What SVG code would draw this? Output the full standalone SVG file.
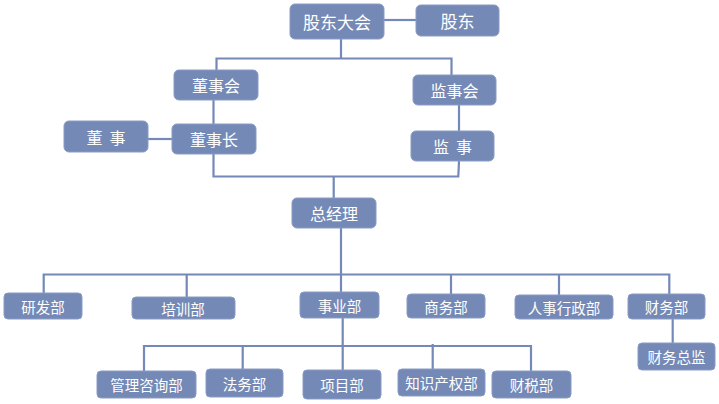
<svg xmlns="http://www.w3.org/2000/svg" width="719" height="404" viewBox="0 0 719 404">
<style>
.n rect{fill:#7589B6;stroke:#8A9BC4;stroke-width:1}
.n text{fill:#fff;font-family:"Noto Sans CJK SC","Noto Sans",sans-serif;text-anchor:middle;dominant-baseline:central}
.l{font-size:17px}.m{font-size:16px}.s{font-size:14.5px}
.c{fill:none;stroke:#7489B8;stroke-width:2.2}
</style>
<rect width="719" height="404" fill="#fff"/>
<g id="connectors" class="c">
<path d="M384 20H416"/>
<path d="M341 39V58.5M216.5 70V58.5H451.5V75.3"/>
<path d="M213.5 100V124"/>
<path d="M148 139H172"/>
<path d="M459 105V131"/>
<path d="M213.5 154V176.5H458.3L459 161M333.7 176.5V198"/>
<path d="M341 228V292M43.7 293V274.5H669.3V294M186.7 274.5V297M451 274.5V294M559 274.5V295"/>
<path d="M672.7 319V343"/>
<path d="M342.7 318V370M144 371V346H531V371M242.7 346V369M432.7 344V369"/>
</g>
<g id="n-gudongdahui" class="n"><rect x="290" y="4" width="94" height="35" rx="5"/><text class="l" x="337" y="21.5">股东大会</text></g>
<g id="n-gudong" class="n"><rect x="416" y="5" width="83" height="31" rx="5"/><text class="l" x="457.5" y="20.5">股东</text></g>
<g id="n-dongshihui" class="n"><rect x="174" y="70" width="84" height="30" rx="5"/><text class="m" x="216" y="85">董事会</text></g>
<g id="n-jianshihui" class="n"><rect x="413" y="75" width="83" height="30" rx="5"/><text class="m" x="454.5" y="90">监事会</text></g>
<g id="n-dongshizhang" class="n"><rect x="172" y="124" width="84" height="30" rx="5"/><text class="m" x="214" y="139">董事长</text></g>
<g id="n-dongshi" class="n"><rect x="64" y="121" width="84" height="31" rx="5"/><text class="m" x="106" y="136.5" xml:space="preserve">董  事</text></g>
<g id="n-jianshi" class="n"><rect x="411" y="131" width="83" height="30" rx="5"/><text class="m" x="452.5" y="146" xml:space="preserve">监  事</text></g>
<g id="n-zongjingli" class="n"><rect x="292" y="198" width="84" height="30" rx="5"/><text class="m" x="334" y="213">总经理</text></g>
<g id="n-yanfa" class="n"><rect x="4" y="293" width="78" height="26" rx="4"/><text class="s" x="43" y="306">研发部</text></g>
<g id="n-peixun" class="n"><rect x="132" y="297" width="103" height="22" rx="4"/><text class="s" x="183" y="308">培训部</text></g>
<g id="n-shiye" class="n"><rect x="300" y="292" width="79" height="26" rx="4"/><text class="s" x="339.5" y="305">事业部</text></g>
<g id="n-shangwu" class="n"><rect x="407" y="294" width="78" height="24" rx="4"/><text class="s" x="446" y="306">商务部</text></g>
<g id="n-renshi" class="n"><rect x="515" y="295" width="98" height="24" rx="4"/><text class="s" x="564" y="307">人事行政部</text></g>
<g id="n-caiwu" class="n"><rect x="628" y="294" width="77" height="25" rx="4"/><text class="s" x="666.5" y="306.5">财务部</text></g>
<g id="n-caiwuzongjian" class="n"><rect x="638" y="343" width="77" height="27" rx="4"/><text class="s" x="676.5" y="356.5">财务总监</text></g>
<g id="n-guanli" class="n"><rect x="97" y="371" width="99" height="27" rx="4"/><text class="s" x="146.5" y="384.5">管理咨询部</text></g>
<g id="n-fawu" class="n"><rect x="206" y="369" width="77" height="28" rx="4"/><text class="s" x="244.5" y="383">法务部</text></g>
<g id="n-xiangmu" class="n"><rect x="303" y="370" width="78" height="29" rx="4"/><text class="s" x="342" y="384.5">项目部</text></g>
<g id="n-zhishi" class="n"><rect x="398" y="369" width="87" height="27" rx="4"/><text class="s" x="441.5" y="382.5">知识产权部</text></g>
<g id="n-caishui" class="n"><rect x="492" y="371" width="79" height="27" rx="4"/><text class="s" x="531.5" y="384.5">财税部</text></g>
</svg>
